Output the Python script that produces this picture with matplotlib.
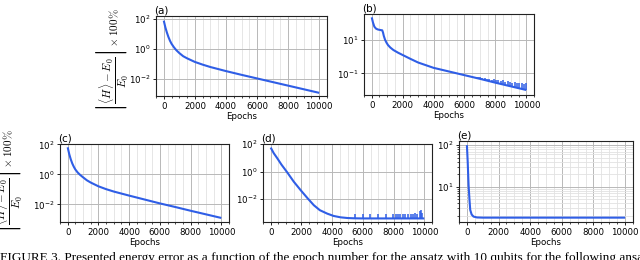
import numpy as np
import matplotlib
matplotlib.use("Agg")
import matplotlib.pyplot as plt
from matplotlib.ticker import MultipleLocator, FixedLocator, NullLocator, LogLocator

# ---------------- data (log10 of percentage error) ----------------
a_epochs = [0, 100, 200, 300, 400, 500, 650, 800, 1000, 1250, 1500, 2000, 2500, 3000,
            4000, 5000, 6000, 7000, 8000, 9000, 10000]
a_log = [1.89, 1.45, 1.1, 0.8, 0.55, 0.35, 0.12, -0.07, -0.27, -0.48, -0.62, -0.86, -1.04,
         -1.2, -1.47, -1.72, -1.96, -2.2, -2.44, -2.68, -2.92]

b_epochs = [0, 80, 170, 280, 400, 550, 680, 730, 780, 860, 950, 1050, 1200, 1400, 1700,
            2000, 2500, 3000, 4000, 5000, 6000, 7000, 8000, 9000, 10000]
b_log = [2.36, 2.05, 1.8, 1.68, 1.63, 1.6, 1.58, 1.45, 1.25, 1.02, 0.85, 0.7, 0.55, 0.4,
         0.24, 0.1, -0.13, -0.35, -0.67, -0.89, -1.11, -1.33, -1.56, -1.78, -2.0]
b_spike_epochs = [6850, 7000, 7150, 7300, 7450, 7600, 7750, 7900, 8050, 8200, 8350, 8500,
                  8650, 8800, 8950, 9100, 9250, 9400, 9550, 9700, 9850, 9950]
b_spike_log = [-1.22, -1.24, -1.25, -1.3, -1.32, -1.33, -1.38, -1.36, -1.42, -1.37, -1.45,
               -1.42, -1.5, -1.47, -1.52, -1.55, -1.52, -1.6, -1.56, -1.55, -1.62, -1.58]

c_epochs = [0, 100, 200, 300, 400, 500, 650, 800, 1000, 1250, 1500, 2000, 2500, 3000,
            4000, 5000, 6000, 7000, 8000, 9000, 10000]
c_log = [1.8, 1.35, 1.0, 0.72, 0.5, 0.32, 0.12, -0.03, -0.2, -0.4, -0.55, -0.8, -0.99,
         -1.15, -1.42, -1.68, -1.94, -2.18, -2.43, -2.67, -2.91]

d_epochs = [0, 200, 430, 700, 1080, 1500, 1950, 2400, 2810, 3200, 3680, 4100, 4550, 5000,
            5410, 6000, 8000, 10000]
d_log = [1.76, 1.35, 0.98, 0.52, -0.05, -0.72, -1.34, -1.93, -2.44, -2.8, -3.05, -3.22,
         -3.32, -3.37, -3.39, -3.4, -3.4, -3.4]
d_spike_epochs = [5480, 6020, 6490, 6970, 7510, 7960, 8180, 8290, 8400, 8610, 8770, 8920,
                  9130, 9260, 9420, 9520, 9700, 9780, 9850]
d_spike_log = [-3.08, -3.1, -3.08, -3.1, -3.08, -3.1, -3.05, -3.05, -3.05, -3.05, -3.05,
               -3.05, -3.05, -3.05, -3.0, -3.05, -2.85, -2.8, -3.0]

e_epochs = [0, 50, 105, 160, 210, 300, 420, 630, 1000, 10000]
e_log = [2.0, 1.6, 1.04, 0.7, 0.44, 0.33, 0.28, 0.26, 0.255, 0.255]

panel_titles = ["(a)", "(b)", "(c)", "(d)", "(e)"]
x_ticks = [0, 2000, 4000, 6000, 8000, 10000]
xlabel = "Epochs"
ylabel = r"$\left|\dfrac{\langle H\rangle - E_0}{E_0}\right| \times 100\%$"
caption = ("FIGURE 3. Presented energy error as a function of the epoch number for the "
           "ansatz with 10 qubits for the following ansatz")

# ---------------- figure ----------------
W, H = 640, 260
fig = plt.figure(figsize=(W / 100, H / 100), dpi=100)
LINE = "#2f5ee6"
FS = 6.2


def px_axes(l, t, r, b):
    return fig.add_axes([l / W, 1 - b / H, (r - l) / W, (b - t) / H])


def style(ax, title, ylim_log, yticks, yminor=False):
    ax.set_yscale("log")
    ax.set_xlim(-500, 10500)
    ax.set_ylim(10 ** ylim_log[0], 10 ** ylim_log[1])
    ax.xaxis.set_major_locator(FixedLocator(x_ticks))
    ax.xaxis.set_minor_locator(MultipleLocator(500))
    ax.yaxis.set_major_locator(FixedLocator(yticks))
    if yminor:
        ax.yaxis.set_minor_locator(LogLocator(base=10, subs=np.arange(2, 10)))
    else:
        ax.yaxis.set_minor_locator(NullLocator())
    ax.tick_params(labelsize=FS, length=2.5, width=0.6, pad=1.5)
    ax.tick_params(which="minor", length=1.5, width=0.5)
    ax.grid(which="major", color="#b8b8b8", lw=0.7)
    ax.grid(which="minor", color="#e2e2e2", lw=0.6)
    ax.set_axisbelow(True)
    ax.set_xlabel(xlabel, fontsize=FS, labelpad=1)
    ax.set_title(title, loc="left", fontsize=7.5, pad=2, x=-0.01)
    for s in ax.spines.values():
        s.set_linewidth(0.8)
        s.set_color("#222222")


def draw(ax, ep, lg):
    ax.plot(ep, 10 ** np.array(lg), color=LINE, lw=1.5, solid_capstyle="butt")


def spikes(ax, ep, lg, sep, slg):
    base = np.interp(sep, ep, lg)
    ax.vlines(sep, 10 ** base, 10 ** np.array(slg), color=LINE, lw=1.1)


axa = px_axes(156, 16, 327, 96)
draw(axa, a_epochs, a_log)
style(axa, panel_titles[0], (-3.13, 2.2), [1e-2, 1e0, 1e2])

axb = px_axes(364, 14, 534, 95)
draw(axb, b_epochs, b_log)
spikes(axb, b_epochs, b_log, b_spike_epochs, b_spike_log)
style(axb, panel_titles[1], (-2.3, 2.56), [1e-1, 1e1])

axc = px_axes(60, 144, 229, 222)
draw(axc, c_epochs, c_log)
style(axc, panel_titles[2], (-3.18, 2.02), [1e-2, 1e0, 1e2])

axd = px_axes(263, 144, 432, 222)
draw(axd, d_epochs, d_log)
spikes(axd, d_epochs, d_log, d_spike_epochs, d_spike_log)
style(axd, panel_titles[3], (-3.66, 2.02), [1e-2, 1e0, 1e2])

axe = px_axes(459, 141, 633, 222)
draw(axe, e_epochs, e_log)
style(axe, panel_titles[4], (0.15, 2.1), [1e1, 1e2], yminor=True)

# y labels (rotated math), the lower one is partly outside the crop as in the reference
for xc, yc in [(112, 60), (6, 181)]:
    fig.text(xc / W, 1 - yc / H, ylabel, rotation=90, ha="center", va="center",
             fontsize=8, math_fontfamily="cm")

# caption, clipped at the bottom edge as in the reference
fig.text(0.0, 1 - 252.5 / H, caption, ha="left", va="top", fontsize=9.5,
         family="Liberation Serif")

fig.savefig("out.png", dpi=100)
